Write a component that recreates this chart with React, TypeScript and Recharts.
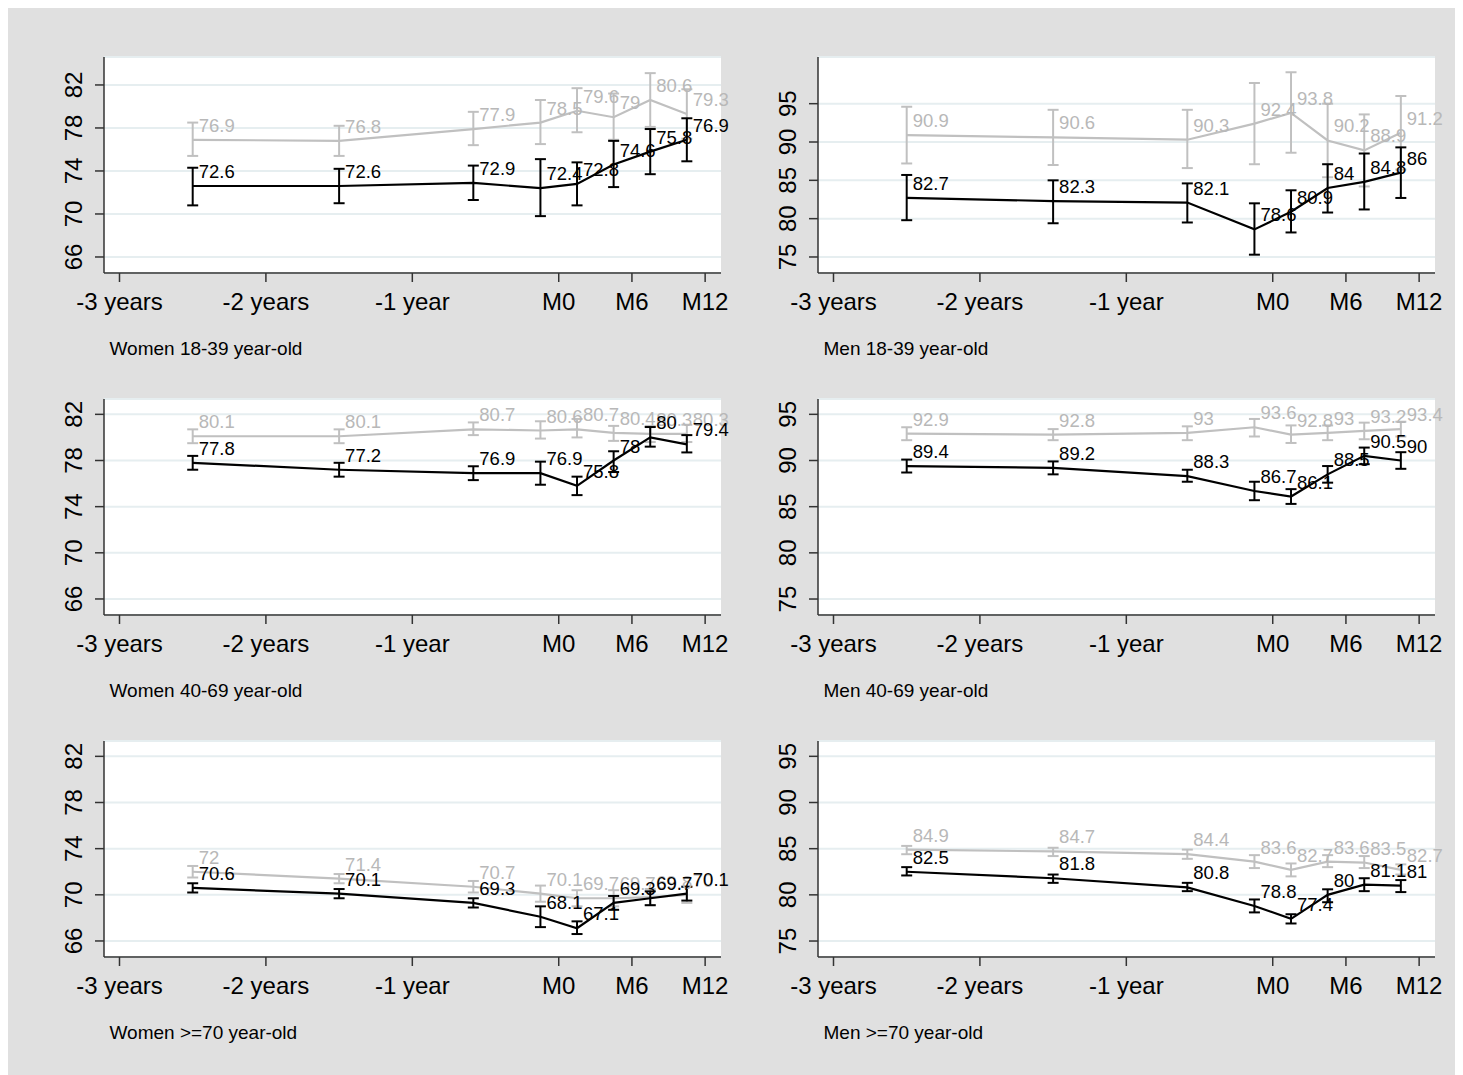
import { LineChart, Line, XAxis, YAxis, CartesianGrid, ErrorBar } from "recharts";

// time of each measure, in months from M0
const months = [-30, -18, -7, -1.5, 1.5, 4.5, 7.5, 10.5];
const xTicks = [-36, -24, -12, 0, 6, 12];
const xTickLabels = ["-3 years", "-2 years", "-1 year", "M0", "M6", "M12"];
const womenTicks = [66, 70, 74, 78, 82];
const menTicks = [75, 80, 85, 90, 95];

// Women 18-39
const w1839Gray = [76.9, 76.8, 77.9, 78.5, 79.6, 79, 80.6, 79.3];
const w1839GrayLo = [75.4, 75.4, 76.4, 76.5, 77.6, 76.9, 78.1, 77.0];
const w1839GrayHi = [78.5, 78.2, 79.5, 80.6, 81.7, 81.2, 83.1, 81.6];
const w1839Black = [72.6, 72.6, 72.9, 72.4, 72.8, 74.6, 75.8, 76.9];
const w1839BlackLo = [70.8, 71.0, 71.3, 69.8, 70.8, 72.5, 73.7, 74.9];
const w1839BlackHi = [74.3, 74.2, 74.5, 75.1, 74.8, 76.8, 77.9, 78.9];

// Men 18-39
const m1839Gray = [90.9, 90.6, 90.3, 92.4, 93.8, 90.2, 88.9, 91.2];
const m1839GrayLo = [87.2, 87.0, 86.6, 87.1, 88.6, 85.4, 84.2, 86.4];
const m1839GrayHi = [94.6, 94.2, 94.2, 97.7, 99.1, 95.0, 93.6, 96.0];
const m1839Black = [82.7, 82.3, 82.1, 78.6, 80.9, 84, 84.8, 86];
const m1839BlackLo = [79.8, 79.4, 79.5, 75.3, 78.2, 80.8, 81.2, 82.7];
const m1839BlackHi = [85.7, 85.0, 84.6, 82.0, 83.7, 87.1, 88.5, 89.3];

// Women 40-69
const w4069Gray = [80.1, 80.1, 80.7, 80.6, 80.7, 80.4, 80.3, 80.3];
const w4069GrayLo = [79.5, 79.5, 80.2, 79.9, 80.0, 79.7, 79.6, 79.6];
const w4069GrayHi = [80.7, 80.7, 81.3, 81.4, 81.6, 81.0, 81.0, 81.1];
const w4069Black = [77.8, 77.2, 76.9, 76.9, 75.8, 78, 80, 79.4];
const w4069BlackLo = [77.2, 76.6, 76.3, 75.9, 75.0, 77.0, 79.2, 78.7];
const w4069BlackHi = [78.4, 77.8, 77.5, 77.9, 76.6, 78.8, 80.9, 80.2];

// Men 40-69
const m4069Gray = [92.9, 92.8, 93, 93.6, 92.8, 93, 93.2, 93.4];
const m4069GrayLo = [92.2, 92.2, 92.2, 92.6, 91.9, 92.2, 92.3, 92.6];
const m4069GrayHi = [93.6, 93.4, 93.7, 94.5, 93.8, 93.8, 94.1, 94.2];
const m4069Black = [89.4, 89.2, 88.3, 86.7, 86.1, 88.5, 90.5, 90];
const m4069BlackLo = [88.7, 88.5, 87.7, 85.7, 85.3, 87.6, 89.6, 89.1];
const m4069BlackHi = [90.1, 89.9, 89.0, 87.7, 86.9, 89.4, 91.4, 90.9];

// Women >=70
const w70Gray = [72, 71.4, 70.7, 70.1, 69.7, 69.7, 69.8, 70];
const w70GrayLo = [71.5, 71.0, 70.2, 69.4, 69.0, 69.0, 69.1, 69.3];
const w70GrayHi = [72.5, 71.8, 71.2, 70.8, 70.4, 70.4, 70.5, 70.7];
const w70Black = [70.6, 70.1, 69.3, 68.1, 67.1, 69.3, 69.7, 70.1];
const w70BlackLo = [70.2, 69.7, 68.9, 67.2, 66.6, 68.7, 69.1, 69.5];
const w70BlackHi = [71.0, 70.5, 69.7, 69.0, 67.7, 69.9, 70.3, 70.7];

// Men >=70
const m70Gray = [84.9, 84.7, 84.4, 83.6, 82.7, 83.6, 83.5, 82.7];
const m70GrayLo = [84.4, 84.2, 83.9, 82.9, 82.0, 83.0, 82.9, 82.2];
const m70GrayHi = [85.3, 85.1, 84.9, 84.3, 83.4, 84.3, 84.2, 83.3];
const m70Black = [82.5, 81.8, 80.8, 78.8, 77.4, 80, 81.1, 81];
const m70BlackLo = [82.1, 81.3, 80.4, 78.1, 76.9, 79.2, 80.4, 80.3];
const m70BlackHi = [83.0, 82.2, 81.3, 79.5, 77.9, 80.6, 81.8, 81.6];

const GRAY = "#c0c0c0";
const FONT = "'Liberation Sans', Arial, sans-serif";

const YTick = (props: any) => {
  const { x, y, payload } = props;
  const bx = x - 11;
  return (
    <text x={bx} y={y} transform={`rotate(-90, ${bx}, ${y})`} textAnchor="middle" fontSize={24} fill="#000">
      {payload.value}
    </text>
  );
};

const pointLabel = (color: string) => (props: any) => {
  const x = props.x ?? props.viewBox?.x;
  const y = props.y ?? props.viewBox?.y;
  if (x == null || y == null) return null;
  return (
    <text x={x + 6} y={y - 8} fill={color} fontSize={18.5}>
      {props.value}
    </text>
  );
};

interface PanelProps {
  title: string;
  gray: number[];
  grayLo: number[];
  grayHi: number[];
  black: number[];
  blackLo: number[];
  blackHi: number[];
  ticks: number[];
  domain: [number, number];
  col: number;
  row: number;
}

function Panel({ title, gray, grayLo, grayHi, black, blackLo, blackHi, ticks, domain, col, row }: PanelProps) {
  const data = months.map((m, i) => ({
    m,
    gray: gray[i],
    grayErr: [gray[i] - grayLo[i], grayHi[i] - gray[i]],
    black: black[i],
    blackErr: [black[i] - blackLo[i], blackHi[i] - black[i]],
  }));
  const left = col === 0 ? 0 : 745;
  const width = col === 0 ? 745 : 702;
  const margin = col === 0 ? { top: 49, right: 32, bottom: 0, left: 36 } : { top: 49, right: 20, bottom: 0, left: 5 };
  const top = row * 342;

  return (
    <>
      <div style={{ position: "absolute", left, top }}>
        <LineChart width={width} height={325} data={data} margin={margin}>
          <CartesianGrid vertical={false} fill="#fff" stroke="#e6eef0" strokeWidth={2} />
          <XAxis
            type="number"
            dataKey="m"
            domain={[-37.27, 13.3]}
            ticks={xTicks}
            tickFormatter={(v: number) => xTickLabels[xTicks.indexOf(v)]}
            tick={{ fontSize: 24, fill: "#000" }}
            tickSize={9}
            tickMargin={11}
            height={60}
            axisLine={{ stroke: "#333", strokeWidth: 1.5 }}
            tickLine={{ stroke: "#333", strokeWidth: 1.5 }}
          />
          <YAxis
            type="number"
            domain={domain}
            ticks={ticks}
            width={60}
            tickSize={9}
            tick={<YTick />}
            axisLine={{ stroke: "#333", strokeWidth: 1.5 }}
            tickLine={{ stroke: "#333", strokeWidth: 1.5 }}
          />
          <Line
            dataKey="gray"
            stroke={GRAY}
            strokeWidth={2.2}
            dot={false}
            activeDot={false}
            isAnimationActive={false}
            label={pointLabel("#b8b8b8")}
          >
            <ErrorBar dataKey="grayErr" direction="y" width={5.5} stroke={GRAY} strokeWidth={2} isAnimationActive={false} />
          </Line>
          <Line
            dataKey="black"
            stroke="#000"
            strokeWidth={2.2}
            dot={false}
            activeDot={false}
            isAnimationActive={false}
            label={pointLabel("#000")}
          >
            <ErrorBar dataKey="blackErr" direction="y" width={5.5} stroke="#000" strokeWidth={2} isAnimationActive={false} />
          </Line>
        </LineChart>
      </div>
      <div
        style={{
          position: "absolute",
          left: col === 0 ? 101.5 : 815.5,
          top: top + 331,
          fontSize: 19,
          lineHeight: "19px",
          color: "#000",
          whiteSpace: "nowrap",
        }}
      >
        {title}
      </div>
    </>
  );
}

export default function App() {
  return (
    <div
      style={{
        position: "relative",
        width: 1447,
        height: 1067,
        background: "#e0e0e0",
        fontFamily: FONT,
        overflow: "hidden",
      }}
    >
      <style>{"html,body{overflow:hidden}"}</style>
      <Panel title="Women 18-39 year-old" gray={w1839Gray} grayLo={w1839GrayLo} grayHi={w1839GrayHi}
        black={w1839Black} blackLo={w1839BlackLo} blackHi={w1839BlackHi}
        ticks={womenTicks} domain={[64.51, 84.6]} col={0} row={0} />
      <Panel title="Men 18-39 year-old" gray={m1839Gray} grayLo={m1839GrayLo} grayHi={m1839GrayHi}
        black={m1839Black} blackLo={m1839BlackLo} blackHi={m1839BlackHi}
        ticks={menTicks} domain={[72.91, 101.09]} col={1} row={0} />
      <Panel title="Women 40-69 year-old" gray={w4069Gray} grayLo={w4069GrayLo} grayHi={w4069GrayHi}
        black={w4069Black} blackLo={w4069BlackLo} blackHi={w4069BlackHi}
        ticks={womenTicks} domain={[64.61, 83.33]} col={0} row={1} />
      <Panel title="Men 40-69 year-old" gray={m4069Gray} grayLo={m4069GrayLo} grayHi={m4069GrayHi}
        black={m4069Black} blackLo={m4069BlackLo} blackHi={m4069BlackHi}
        ticks={menTicks} domain={[73.27, 96.66]} col={1} row={1} />
      <Panel title="Women >=70 year-old" gray={w70Gray} grayLo={w70GrayLo} grayHi={w70GrayHi}
        black={w70Black} blackLo={w70BlackLo} blackHi={w70BlackHi}
        ticks={womenTicks} domain={[64.61, 83.33]} col={0} row={2} />
      <Panel title="Men >=70 year-old" gray={m70Gray} grayLo={m70GrayLo} grayHi={m70GrayHi}
        black={m70Black} blackLo={m70BlackLo} blackHi={m70BlackHi}
        ticks={menTicks} domain={[73.27, 96.66]} col={1} row={2} />
    </div>
  );
}
